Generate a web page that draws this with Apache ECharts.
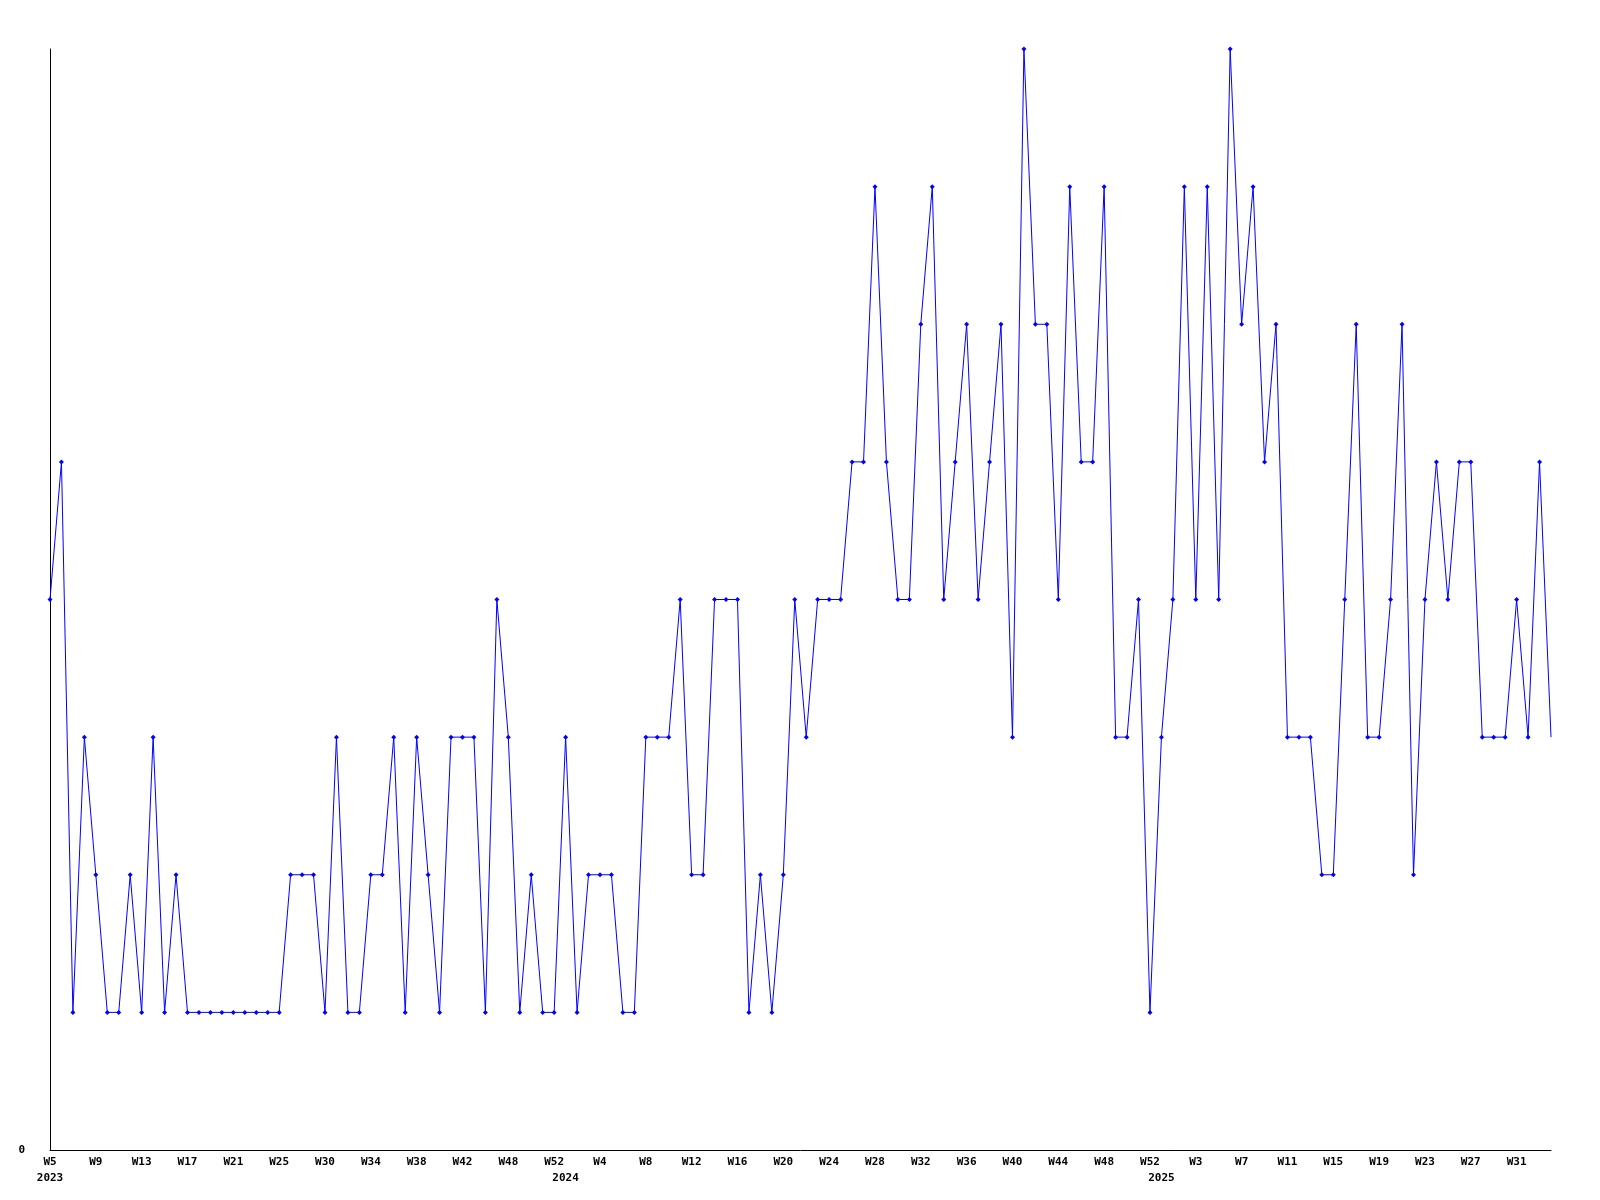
<!DOCTYPE html>
<html>
<head>
<meta charset="utf-8">
<script src="https://cdn.jsdelivr.net/npm/echarts@6/dist/echarts.min.js"></script>
<style>
html,body{margin:0;padding:0;background:#fff;}
#chart{width:1600px;height:1200px;}
</style>
</head>
<body>
<div id="chart"></div>
<script>
// Week labels per data point
const weeks = [
  // 2023
  'W5','W6','W7','W8','W9','W10','W11','W12','W13','W14','W15','W16','W17','W18','W19','W20',
  'W21','W22','W23','W24','W25','W26','W27','W28','W30','W31','W32','W33','W34','W35','W36','W37',
  'W38','W39','W40','W41','W42','W43','W44','W45','W48','W49','W50','W51','W52',
  // 2024
  'W1','W2','W3','W4','W5','W6','W7','W8','W9','W10','W11','W12','W13','W14','W15','W16',
  'W17','W18','W19','W20','W21','W22','W23','W24','W25','W26','W27','W28','W29','W30','W31','W32',
  'W33','W34','W35','W36','W37','W38','W39','W40','W41','W42','W43','W44','W45','W46','W47','W48',
  'W49','W50','W51','W52',
  // 2025
  'W0','W1','W2','W3','W4','W5','W6','W7','W8','W9','W10','W11','W12','W13','W14','W15',
  'W16','W17','W18','W19','W20','W21','W22','W23','W24','W25','W26','W27','W28','W29','W30','W31',
  'W32','W33','W34'
];
// Year of each data point
const yearOf = [].concat(
  Array(45).fill('2023'),
  Array(52).fill('2024'),
  Array(35).fill('2025')
);
// Values per week
const values = [
  4,5,1,3,2,1,1,2,1,3,1,2,1,1,1,1,1,1,1,1,1,2,2,2,1,3,1,1,2,2,3,1,
  3,2,1,3,3,3,1,4,3,1,2,1,1,3,1,2,2,2,1,1,3,3,3,4,2,2,4,4,4,1,
  2,1,2,4,3,4,4,4,5,5,7,5,4,4,6,7,4,5,6,4,5,6,3,8,6,6,4,7,5,5,
  7,3,3,4,1,3,4,7,4,7,4,8,6,7,5,6,3,3,3,2,2,4,6,3,3,4,6,2,4,5,
  4,5,5,3,3,3,4,3,5,3
];
const yTickLabels = ['0'];

const labelFont = {fontFamily: 'DejaVu Sans Mono', fontWeight: 'bold', fontSize: 11, color: '#000'};

const chart = echarts.init(document.getElementById('chart'), null, {renderer: 'canvas'});
const seriesData = values.map((v, i) => i === values.length - 1 ? {value: v, symbol: 'none'} : v);

chart.setOption({
  animation: false,
  backgroundColor: '#fff',
  grid: {left: 50, right: 49, top: 49, bottom: 50, containLabel: false},
  xAxis: [{
    type: 'category',
    data: weeks,
    boundaryGap: false,
    axisLine: {show: true, lineStyle: {color: '#000', width: 1}},
    axisTick: {show: false},
    splitLine: {show: false},
    axisLabel: Object.assign({interval: 3, margin: 7}, labelFont)
  }, {
    type: 'category',
    data: weeks,
    boundaryGap: false,
    position: 'bottom',
    axisLine: {show: false},
    axisTick: {show: false},
    splitLine: {show: false},
    axisLabel: Object.assign({
      margin: 23,
      interval: function (idx) { return idx === 0 || yearOf[idx] !== yearOf[idx - 1]; },
      formatter: function (val, idx) { return yearOf[idx]; }
    }, labelFont)
  }],
  yAxis: {
    type: 'value',
    min: 0,
    max: 8,
    interval: 8,
    axisLine: {show: true, lineStyle: {color: '#000', width: 1}},
    axisTick: {show: false},
    splitLine: {show: false},
    axisLabel: Object.assign({
      margin: 25,
      formatter: function (v) { return v === 0 ? yTickLabels[0] : ''; }
    }, labelFont)
  },
  series: [{
    type: 'line',
    xAxisIndex: 0,
    data: seriesData,
    symbol: 'diamond',
    symbolSize: 5,
    showAllSymbol: true,
    lineStyle: {color: '#0000ff', width: 1},
    itemStyle: {color: '#0000ff'}
  }]
});
</script>
</body>
</html>
